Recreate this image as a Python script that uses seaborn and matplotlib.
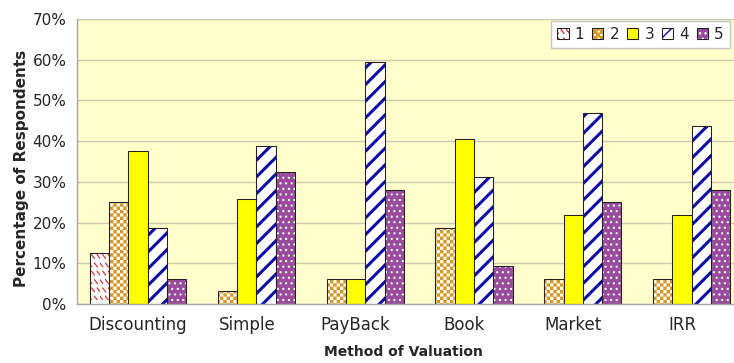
import warnings

import matplotlib
matplotlib.use("Agg")
import matplotlib.pyplot as plt
import matplotlib.hatch as mhatch
import pandas as pd
import seaborn as sns
from matplotlib.colors import to_rgba
from matplotlib.path import Path
from matplotlib.ticker import FixedLocator, PercentFormatter

# ---------------------------------------------------------------- data
methods = ["Discounting", "Simple", "PayBack", "Book", "Market", "IRR"]
ratings = ["1", "2", "3", "4", "5"]

rating_1 = [12.5, 0.0, 0.0, 0.0, 0.0, 0.0]
rating_2 = [25.0, 3.2, 6.25, 18.75, 6.25, 6.25]
rating_3 = [37.5, 25.8, 6.25, 40.6, 21.9, 21.9]
rating_4 = [18.75, 38.7, 59.4, 31.25, 46.9, 43.75]
rating_5 = [6.25, 32.3, 28.1, 9.4, 25.0, 28.1]

y_ticks = [0, 10, 20, 30, 40, 50, 60, 70]

series = [rating_1, rating_2, rating_3, rating_4, rating_5]
rows = [
    (m, r, v)
    for r, vals in zip(ratings, series)
    for m, v in zip(methods, vals)
]
df = pd.DataFrame(rows, columns=["method", "rating", "share"])
df = df[df["share"] > 0]  # empty cells are simply not drawn


# ------------------------------------------------- extra fill patterns
class CheckerHatch(mhatch.HatchPatternBase):
    """'c': filled squares on alternate cells of a square grid."""

    def __init__(self, hatch, density):
        self.cells = hatch.count("c") * density
        if self.cells % 2:
            self.cells += 1
        self.num_vertices = (self.cells * self.cells // 2) * 5

    def set_vertices_and_codes(self, vertices, codes):
        n = self.cells
        s = 1.0 / n
        k = 0
        for i in range(n):
            for j in range(n):
                if (i + j) % 2:
                    continue
                x0, y0 = i * s, j * s
                vertices[k:k + 5] = [(x0, y0), (x0 + s, y0), (x0 + s, y0 + s),
                                     (x0, y0 + s), (x0, y0)]
                codes[k:k + 5] = [Path.MOVETO, Path.LINETO, Path.LINETO,
                                  Path.LINETO, Path.CLOSEPOLY]
                k += 5


class DashHatch(mhatch.HatchPatternBase):
    """'d': short back-slanted dashes on a staggered grid."""

    def __init__(self, hatch, density):
        self.rows = hatch.count("d") * density
        self.cols = self.rows * 3 // 2
        self.num_vertices = self.rows * self.cols * 2

    def set_vertices_and_codes(self, vertices, codes):
        dy = 1.0 / self.rows if self.rows else 0
        dx = 1.0 / self.cols if self.cols else 0
        run = 0.5 * dx
        k = 0
        for r in range(self.rows):
            shift = 0.5 * dx if r % 2 else 0.0
            for c in range(self.cols):
                x0 = c * dx + shift
                y0 = r * dy
                vertices[k:k + 2] = [(x0, y0 + run * 1.3), (x0 + run, y0)]
                codes[k:k + 2] = [Path.MOVETO, Path.LINETO]
                k += 2


mhatch._hatch_types.extend([CheckerHatch, DashHatch])

styles = {
    "1": dict(face="white", hatch="dd", hatch_color="#D23A3A", hatch_lw=0.9),
    "2": dict(face="white", hatch="ccccc", hatch_color="#D39A28", hatch_lw=0.1),
    "3": dict(face="#FFFF00", hatch=None, hatch_color=None, hatch_lw=None),
    "4": dict(face="white", hatch="//", hatch_color="#0D0DA6", hatch_lw=2.2),
    "5": dict(face="#9A4C9C", hatch="...", hatch_color="white", hatch_lw=0.8),
}
palette = {r: styles[r]["face"] for r in ratings}

EDGE = "#202020"
GRID = "#CACAAE"
AXIS = "#A8A8A8"
TEXT = "#262626"


def paint(patch, style):
    patch.set_facecolor(style["face"])
    patch.set_edgecolor(EDGE)
    patch.set_linewidth(0.75)
    if style["hatch"]:
        with warnings.catch_warnings():
            warnings.simplefilter("ignore")
            patch.set_hatch(style["hatch"])
        if hasattr(patch, "set_hatchcolor"):
            patch.set_hatchcolor(style["hatch_color"])
        else:
            patch._hatch_color = to_rgba(style["hatch_color"])
        if hasattr(patch, "set_hatch_linewidth"):
            patch.set_hatch_linewidth(style["hatch_lw"])


# ---------------------------------------------------------------- plot
sns.set_style("white")
plt.rcParams["font.family"] = ["DejaVu Sans"]

fig = plt.figure(figsize=(7.34, 3.63), dpi=100)
ax = fig.add_axes([77 / 734, 59 / 363, 666 / 734, 285 / 363])

sns.barplot(
    data=df, x="method", y="share", hue="rating",
    order=methods, hue_order=ratings, palette=palette,
    saturation=1, width=0.887, gap=0, errorbar=None,
    edgecolor=EDGE, linewidth=0.75, legend=False, ax=ax,
)

for rating, container in zip(ratings, ax.containers):
    for bar in container.patches:
        paint(bar, styles[rating])

ax.set_facecolor("#FFFFCC")
ax.set_xlim(-0.56, 5.56)
ax.set_ylim(0, 70)
ax.yaxis.set_major_locator(FixedLocator(y_ticks))
ax.yaxis.set_major_formatter(PercentFormatter(decimals=0))
ax.grid(axis="y", color=GRID, linewidth=1.0)
ax.grid(axis="x", visible=False)
ax.set_axisbelow(True)

for side in ("top", "right"):
    ax.spines[side].set_visible(False)
for side in ("left", "bottom"):
    ax.spines[side].set_color(AXIS)
    ax.spines[side].set_linewidth(1.0)

ax.set_xticks(range(len(methods)))
ax.set_xticklabels(methods)
ax.set_xticks([i + 0.5 for i in range(len(methods) - 1)], minor=True)
ax.tick_params(axis="x", which="major", length=0, pad=8.5,
               labelsize=12, labelcolor=TEXT)
ax.tick_params(axis="x", which="minor", length=4, width=1, color=AXIS)
ax.tick_params(axis="y", length=4, width=1, color=AXIS, pad=3.5,
               labelsize=11, labelcolor=TEXT)

ax.set_ylabel("Percentage of Respondents", fontsize=11,
              fontweight="bold", color=TEXT)
ax.yaxis.set_label_coords(-0.072, 0.475)
ax.set_xlabel("Method of Valuation", fontsize=10,
              fontweight="bold", color=TEXT)
ax.xaxis.set_label_coords(0.49, -0.143)

handles = [container.patches[0] for container in ax.containers]
fig.legend(
    handles, ratings,
    loc="upper left", bbox_to_anchor=(551 / 734, 1 - 21 / 363),
    bbox_transform=fig.transFigure, borderaxespad=0, ncol=5, fontsize=11,
    handlelength=0.75, handleheight=0.75, handletextpad=0.4,
    columnspacing=0.5, borderpad=0.4, frameon=True, fancybox=False,
    edgecolor="#C4C4C4", facecolor="white", framealpha=1,
    labelcolor=TEXT,
)

fig.savefig("out.png", dpi=100)
